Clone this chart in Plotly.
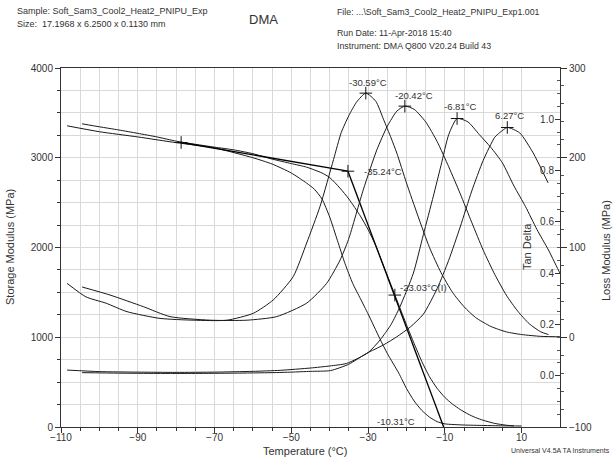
import plotly.graph_objects as go

# ---------------- data ----------------
# Storage modulus, run 1 (MPa)
e1_temp = [-108.4, -100, -90, -80, -70, -60, -55, -50, -46, -44, -42, -40, -38, -36, -34, -32, -30, -27,
           -25, -22, -20, -18, -16, -14, -12, -10, -5, 0, 5, 10]
e1_val = [3356, 3290, 3232, 3168, 3110, 3000, 2930, 2830, 2717, 2650, 2540, 2340, 2080, 1820, 1600, 1430, 1260, 990,
          820, 600, 430, 290, 185, 110, 60, 35, 22, 17, 13, 11]
# Storage modulus, run 2 (MPa)
e2_temp = [-104.5, -100, -95, -90, -85, -80, -75, -70, -65, -60, -55, -50, -46, -42, -40, -37.3, -35, -32, -30,
           -28, -26, -24, -23, -22, -20, -18, -16, -14, -12, -10, -8, -6, -4, -2, 0, 3, 6, 8]
e2_val = [3378, 3345, 3310, 3272, 3232, 3185, 3150, 3118, 3088, 3045, 2985, 2935, 2895, 2830, 2780, 2661, 2540,
          2350, 2200, 2020, 1800, 1580, 1470, 1360, 1140, 930, 730, 560, 430, 330, 255, 195, 145, 105, 75, 40, 20, 12]
# Onset / inflection tangent lines (MPa)
tan1_temp = [-78.7, -35.24]
tan1_val = [3170, 2850]
tan2_temp = [-35.24, -10.31]
tan2_val = [2850, 0]
# Loss modulus, run 1 and run 2 (MPa)
l1_temp = [-108.4, -103.5, -98.3, -92.8, -84.2, -75.5, -66.8, -59.9, -54.7, -49.5, -46, -42.5, -39, -37, -35, -33,
           -30.59, -28, -26, -24, -22.5, -20, -17, -14, -11, -8, -5, -2, 2, 6, 10, 15, 21]
l1_val = [60, 45, 38, 28.5, 21, 19, 19, 26.7, 41.6, 67.6, 105, 146, 198, 228, 247, 262,
          272, 263, 243, 222, 205, 172, 135, 100, 72, 50, 34, 22, 12, 6, 3, 1, 0.5]
l2_temp = [-104.5, -97.2, -88.5, -81.6, -71.1, -61.6, -53.8, -46, -40.8, -37.3, -35.1, -31.2, -27.7, -25, -22.5,
           -20.42, -18, -15, -12, -9, -6, -3, 0, 3, 6, 9, 12, 15, 17]
l2_val = [56, 47, 34, 23, 19, 19, 23, 38, 60, 86, 109, 165, 209, 235, 252,
          257.5, 254, 240, 218, 190, 160, 128, 97, 70, 47, 29, 15, 6, 3]
# Tan delta, run 1 and run 2
t1_temp = [-108.4, -100, -90, -80, -70, -60, -52.9, -45, -40, -35.6, -30, -26.9, -24, -21.7, -18.2, -15.6, -13,
           -11, -9, -6.81, -4, -1, 2, 5, 8, 11, 14, 17, 20, 22]
t1_val = [0.022, 0.016, 0.014, 0.013, 0.014, 0.017, 0.021, 0.03, 0.038, 0.048, 0.09, 0.139, 0.2, 0.269, 0.40, 0.55,
          0.70, 0.82, 0.94, 1.003, 0.99, 0.94, 0.89, 0.83, 0.74, 0.66, 0.57, 0.49, 0.40, 0.35]
t2_temp = [-104.5, -95, -85, -75, -65, -55, -50, -45, -39.8, -35, -30.4, -26, -22.5, -19, -15.6, -12, -9, -6, -3,
           0, 3, 4.3, 6.27, 9.5, 13, 16.9]
t2_val = [0.012, 0.010, 0.009, 0.009, 0.010, 0.012, 0.014, 0.017, 0.02, 0.045, 0.087, 0.12, 0.152, 0.19, 0.24,
          0.34, 0.45, 0.58, 0.72, 0.84, 0.93, 0.948, 0.968, 0.947, 0.869, 0.752]
# Marked points
peak_loss_temp = [-30.59, -20.42]
peak_loss_val = [272, 257.5]
peak_tan_temp = [-6.81, 6.27]
peak_tan_val = [1.003, 0.968]
e_mark_temp = [-78.7, -35.24, -23.03]
e_mark_val = [3170, 2850, 1470]

x_ticks = [-110, -90, -70, -50, -30, -10, 10]
storage_ticks = [0, 1000, 2000, 3000, 4000]
loss_ticks = [-100, 0, 100, 200, 300]
tan_ticks = [0.0, 0.2, 0.4, 0.6, 0.8, 1.0]
tan_ticktext = ["0.0", "0.2", "0.4", "0.6", "0.8", "1.0"]

# ---------------- figure ----------------
W, H = 614, 461
ML, MR, MT, MB = 61, 54, 68, 34
PW, PH = W - ML - MR, H - MT - MB
FONT = "Liberation Sans, Arial, sans-serif"
TXT = "#333333"
LC = "#1a1a1a"
GRID = "#d9d9d9"


def xp(p):
    return (p - ML) / PW


def yp(p):
    return (H - MB - p) / PH


fig = go.Figure()
curve = dict(color=LC, width=1, shape="spline", smoothing=0.6)
fig.add_trace(go.Scatter(x=e1_temp, y=e1_val, mode="lines", line=curve, yaxis="y"))
fig.add_trace(go.Scatter(x=e2_temp, y=e2_val, mode="lines", line=curve, yaxis="y"))
fig.add_trace(go.Scatter(x=tan1_temp, y=tan1_val, mode="lines", line=dict(color="#000", width=1.3), yaxis="y"))
fig.add_trace(go.Scatter(x=tan2_temp, y=tan2_val, mode="lines", line=dict(color="#000", width=1.3), yaxis="y"))
fig.add_trace(go.Scatter(x=l1_temp, y=l1_val, mode="lines", line=curve, yaxis="y2"))
fig.add_trace(go.Scatter(x=l2_temp, y=l2_val, mode="lines", line=curve, yaxis="y2"))
fig.add_trace(go.Scatter(x=t1_temp, y=t1_val, mode="lines", line=curve, yaxis="y3"))
fig.add_trace(go.Scatter(x=t2_temp, y=t2_val, mode="lines", line=curve, yaxis="y3"))

mk = dict(symbol="cross-thin", size=9, line=dict(color="#111", width=1), color="#111")
fig.add_trace(go.Scatter(x=peak_loss_temp, y=peak_loss_val, mode="markers", marker=mk, yaxis="y2"))
fig.add_trace(go.Scatter(x=peak_tan_temp, y=peak_tan_val, mode="markers", marker=mk, yaxis="y3"))
fig.add_trace(go.Scatter(x=e_mark_temp, y=e_mark_val, mode="markers", marker=mk, yaxis="y"))

ann = []
lab = dict(size=9.5, color=TXT, family=FONT)
ann.append(dict(x=peak_loss_temp[0], y=peak_loss_val[0], xref="x", yref="y2", text="%.2f°C" % peak_loss_temp[0],
                showarrow=False, yshift=11, xshift=2, font=lab))
ann.append(dict(x=peak_loss_temp[1], y=peak_loss_val[1], xref="x", yref="y2", text="%.2f°C" % peak_loss_temp[1],
                showarrow=False, yshift=11, xshift=9, font=lab))
ann.append(dict(x=peak_tan_temp[0], y=peak_tan_val[0], xref="x", yref="y3", text="%.2f°C" % peak_tan_temp[0],
                showarrow=False, yshift=12, xshift=3, font=lab))
ann.append(dict(x=peak_tan_temp[1], y=peak_tan_val[1], xref="x", yref="y3", text="%.2f°C" % peak_tan_temp[1],
                showarrow=False, yshift=12, xshift=2, font=lab))
ann.append(dict(x=e_mark_temp[1], y=e_mark_val[1], xref="x", yref="y", text="%.2f°C" % e_mark_temp[1],
                showarrow=False, xanchor="left", xshift=14, yshift=0, font=lab))
ann.append(dict(x=e_mark_temp[2], y=e_mark_val[2], xref="x", yref="y", text="%.2f°C(I)" % e_mark_temp[2],
                showarrow=False, xanchor="left", xshift=3, yshift=8, font=lab))
ann.append(dict(x=tan2_temp[1], y=tan2_val[1], xref="x", yref="y", text="%.2f°C" % tan2_temp[1],
                showarrow=False, xanchor="right", xshift=-27, yshift=6, font=lab))


def text(px, py, s, anchor="left", size=9, angle=0):
    ann.append(dict(x=xp(px), y=yp(py), xref="paper", yref="paper", text=s, showarrow=False,
                    xanchor=anchor, yanchor="middle", textangle=angle,
                    font=dict(size=size, color=TXT, family=FONT)))


text(15, 11, "Sample: Soft_Sam3_Cool2_Heat2_PNIPU_Exp")
text(15, 24, "Size:\u00a0 17.1968 x 6.2500 x 0.1130 mm")
text(263, 19, "DMA", "center", 13)
text(335, 12, "File: ...\\Soft_Sam3_Cool2_Heat2_PNIPU_Exp1.001", size=8.8)
text(335, 33, "Run Date: 11-Apr-2018 15:40", size=8.8)
text(335, 46, "Instrument: DMA Q800 V20.24 Build 43", size=8.8)
text(612, 450, "Universal V4.5A TA Instruments", "right", 7)
text(305, 451, "Temperature (°C)", "center", 11)
text(10, 247, "Storage Modulus (MPa)", "center", 11, -90)
text(606, 251, "Loss Modulus (MPa)", "center", 11, -90)
text(527, 247, "Tan Delta", "center", 11, -90)

tickfont = dict(size=10, color=TXT, family=FONT)
fig.update_layout(
    width=W, height=H, margin=dict(l=ML, r=MR, t=MT, b=MB, pad=0),
    paper_bgcolor="white", plot_bgcolor="white", showlegend=False,
    font=dict(family=FONT, color=TXT),
    annotations=ann,
    xaxis=dict(range=[-110, 20], tickmode="array", tickvals=x_ticks, ticks="outside", ticklen=5,
               tickcolor="#333", showline=True, linecolor="#333", linewidth=1, mirror=True,
               showgrid=True, gridcolor=GRID, gridwidth=1, zeroline=False, tickfont=tickfont,
               ticklabelstandoff=-4,
               minor=dict(tick0=-110, dtick=5, showgrid=True, gridcolor=GRID, ticks="outside", ticklen=3,
                          tickcolor="#333")),
    yaxis=dict(range=[0, 4000], tickmode="array", tickvals=storage_ticks, ticks="outside", ticklen=5,
               tickcolor="#333", showline=True, linecolor="#333", linewidth=1, mirror=True,
               showgrid=True, gridcolor=GRID, gridwidth=1, zeroline=False, tickfont=tickfont,
               minor=dict(tick0=0, dtick=250, showgrid=True, gridcolor=GRID, ticks="outside", ticklen=3,
                          tickcolor="#333")),
    yaxis2=dict(range=[-100, 300], overlaying="y", side="right", anchor="x", tickmode="array",
                tickvals=loss_ticks, ticks="outside", ticklen=6, tickcolor="#333", showline=True,
                linecolor="#333", showgrid=False, zeroline=False, tickfont=tickfont,
                minor=dict(tick0=-100, dtick=20, ticks="outside", ticklen=3, tickcolor="#555")),
    yaxis3=dict(range=[-0.2, 1.2], overlaying="y", side="right", anchor="x", tickmode="array",
                tickvals=tan_ticks, ticktext=tan_ticktext, ticks="inside", ticklen=5,
                ticklabelposition="inside", tickcolor="#333", showline=False, showgrid=False,
                zeroline=False, tickfont=tickfont,
                minor=dict(tick0=-0.2, dtick=0.05, ticks="inside", ticklen=3, tickcolor="#555")),
)

fig.write_html("out.html", config={"displayModeBar": False},
               post_script="document.body.style.margin='0';document.body.style.padding='0';"
                           "document.documentElement.style.overflow='hidden';")
